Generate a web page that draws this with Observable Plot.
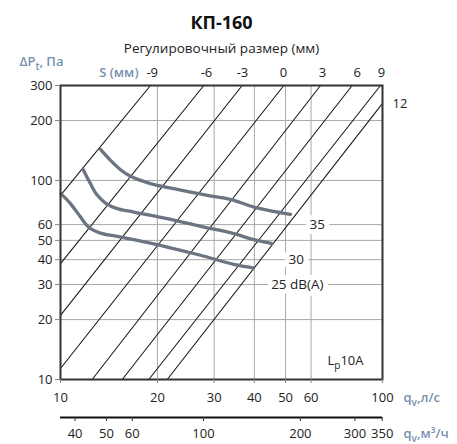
<!DOCTYPE html>
<html>
<head>
<meta charset="utf-8">
<script src="https://cdn.jsdelivr.net/npm/d3@7"></script>
<script src="https://cdn.jsdelivr.net/npm/@observablehq/plot@0.6"></script>
<style>
  html, body { margin: 0; padding: 0; background: #fff; }
  #chart { position: absolute; left: 0; top: 0; }
</style>
</head>
<body>
<div id="chart"></div>
<script>
// ---- texts ----
const title = "КП-160";
const subtitle = "Регулировочный размер (мм)";
const yLabel = "ΔP_t, Па";
const sLabel = "S (мм)";
const xLabel = "q_v,л/с";
const x2Label = "q_v,м³/ч";
const cornerLabel = "L_p10A";

// ---- axes ----
const xTicks = [10, 20, 30, 40, 50, 60, 100];       // л/с
const xGrid = [20, 30, 40, 50, 60];
const yTicks = [10, 20, 30, 40, 50, 60, 100, 200, 300]; // Па
const yGrid = [20, 30, 40, 50, 60, 100, 200];
const m3hTicks = [40, 50, 60, 100, 200, 300, 350];  // м³/ч labels
const m3hTickQ = [11.1, 13.9, 16.7, 27.8, 55.6, 82.1, 99.8]; // their positions on the л/с axis

// ---- regulating lines S (mm): endpoints [q, ΔP] ----
const sValues = ["-9", "-6", "-3", "0", "3", "6", "9", "12"];
const sStartQ = [10, 10, 10, 10, 12.54, 15.55, 18.8, 21.45];
const sStartP = [84.2, 38.2, 21.0, 11.36, 10, 10, 10, 10];
const sEndQ = [19.03, 27.86, 36.66, 49.38, 64.2, 80.5, 98.6, 100];
const sEndP = [300, 300, 300, 300, 300, 300, 300, 243.8];
const sLabelQ = [19.27, 28.4, 36.74, 49.27, 65.12, 83.44, 99.3]; // top labels -9..9

// ---- noise curves dB(A) ----
const dbLevels = ["25", "30", "35"];
const curve25Q = [10.04, 10.74, 11.54, 12.24, 13.31, 15.0, 16.89, 21.45, 27.21, 34.53, 39.6];
const curve25P = [85.6, 76.5, 65.5, 58.2, 54.4, 52.4, 50.4, 46.3, 42.1, 37.9, 36.4];
const curve30Q = [11.76, 12.39, 12.94, 13.8, 15.0, 16.89, 21.45, 27.21, 34.53, 39.83, 45.44];
const curve30P = [113.3, 96.4, 85.2, 77.0, 72.2, 69.4, 64.3, 58.8, 54.1, 50.4, 48.2];
const curve35Q = [13.31, 14.3, 15.36, 16.5, 19.03, 22.49, 28.55, 33.73, 39.83, 51.8];
const curve35P = [143.3, 126.2, 113.3, 104.9, 96.4, 90.9, 84.2, 80.4, 73.5, 67.6];
const dbLabelText = ["25 dB(A)", "30", "35"];
const dbLabelQ = [54.4, 53.95, 62.7];
const dbLabelP = [30, 40, 60];

// ---- build tables ----
const sLines = [];
sValues.forEach((s, i) => {
  sLines.push({s, q: sStartQ[i], p: sStartP[i]});
  sLines.push({s, q: sEndQ[i], p: sEndP[i]});
});
const sTop = sLabelQ.map((q, i) => ({q, text: sValues[i]}));
const curves = [];
[[curve25Q, curve25P], [curve30Q, curve30P], [curve35Q, curve35P]].forEach(([Q, P], k) => {
  Q.forEach((q, i) => curves.push({db: dbLevels[k], q, p: P[i]}));
});
const dbLabels = dbLabelText.map((t, i) => ({text: t, q: dbLabelQ[i], p: dbLabelP[i]}));
const m3h = m3hTicks.map((v, i) => ({v, q: m3hTickQ[i]}));
const xDom = [xTicks[0], xTicks[xTicks.length - 1]];
const yDom = [yTicks[0], yTicks[yTicks.length - 1]];

const blue = "#7890b0";
const gridColor = "#a8a8a8";
const font = "'Open Sans', sans-serif";

const plot = Plot.plot({
  width: 457,
  height: 444,
  marginLeft: 60,
  marginRight: 75,
  marginTop: 85,
  marginBottom: 65,
  style: {fontFamily: font, fontSize: "13px", color: "#222", background: "#fff"},
  x: {type: "log", domain: xDom},
  y: {type: "log", domain: yDom},
  marks: [
    // grid drawn as links (full-height / full-width)
    Plot.link(xGrid, {x1: d => d, x2: d => d, y1: () => yDom[0], y2: () => yDom[1], stroke: gridColor, strokeWidth: 1}),
    Plot.link(yGrid, {y1: d => d, y2: d => d, x1: () => xDom[0], x2: () => xDom[1], stroke: gridColor, strokeWidth: 1}),
    Plot.line(sLines, {x: "q", y: "p", z: "s", stroke: "#1a1a1a", strokeWidth: 1.1}),
    Plot.line(curves, {x: "q", y: "p", z: "db", stroke: "#6b7480", strokeWidth: 3.3, curve: "catmull-rom"}),
    Plot.text(dbLabels, {x: "q", y: "p", text: "text", fill: "#222", stroke: "white", strokeWidth: 10, lineAnchor: "middle", fontSize: 13.5}),
    Plot.frame({stroke: "#333", strokeWidth: 2}),
    Plot.axisY(yTicks, {tickSize: 5, tickPadding: 3, stroke: "#888", fill: "#222", tickFormat: d => String(d), label: null}),
    Plot.axisX(xTicks, {tickSize: 4, stroke: "#888", tickFormat: () => "", label: null}),
    Plot.text(xTicks, {x: d => d, text: d => String(d), frameAnchor: "bottom", lineAnchor: "middle", dy: 18, fill: "#222"}),
    // secondary axis m³/h
    Plot.ruleY([10], {x1: 10, x2: 100, dy: 38, stroke: "#111", strokeWidth: 2}),
    Plot.axisX(m3hTickQ, {tickSize: 4, dy: 38, stroke: "#333", tickFormat: () => "", label: null}),
    Plot.text(m3h, {x: "q", text: d => String(d.v), frameAnchor: "bottom", lineAnchor: "middle", dy: 54, fill: "#222"}),
    // S labels on top
    Plot.text(sTop, {x: "q", text: "text", frameAnchor: "top", lineAnchor: "middle", dy: -13, fill: "#222"}),
    Plot.text(["12"], {x: [100], y: [243.8], text: d => d, textAnchor: "start", dx: 10, lineAnchor: "middle", fill: "#222"}),
    Plot.text([sLabel], {frameAnchor: "top-left", textAnchor: "end", lineAnchor: "middle", dx: 78, dy: -13, fill: blue, fontWeight: 600, text: d => d}),
    Plot.text([yLabel], {frameAnchor: "top-left", textAnchor: "end", lineAnchor: "middle", dx: 3, dy: -24, fill: blue, fontWeight: 600, text: d => d}),
    Plot.text([xLabel], {frameAnchor: "bottom-right", textAnchor: "start", lineAnchor: "middle", dx: 21, dy: 18, fill: blue, fontWeight: 600, text: d => d}),
    Plot.text([x2Label], {frameAnchor: "bottom-right", textAnchor: "start", lineAnchor: "middle", dx: 21, dy: 54, fill: blue, fontWeight: 600, text: d => d}),
    Plot.text([cornerLabel], {frameAnchor: "bottom-right", textAnchor: "middle", lineAnchor: "middle", dx: -37, dy: -19, fill: "#222", text: d => d}),
    Plot.text([subtitle], {frameAnchor: "top", lineAnchor: "middle", dy: -37, fill: "#222", fontSize: 13.5, text: d => d}),
    Plot.text([title], {frameAnchor: "top", lineAnchor: "middle", dy: -62, fill: "#111", fontWeight: "bold", fontSize: 18, text: d => d})
  ]
});

document.getElementById("chart").append(plot);

// subscripts: "X_yZ" -> X, subscript y, Z
const NS = "http://www.w3.org/2000/svg";
plot.querySelectorAll("text").forEach(t => {
  if (t.querySelector("tspan")) return;
  const s = t.textContent;
  const i = s.indexOf("_");
  if (i < 0) return;
  t.textContent = "";
  const a = document.createElementNS(NS, "tspan");
  a.textContent = s.slice(0, i);
  const b = document.createElementNS(NS, "tspan");
  b.textContent = s[i + 1];
  b.setAttribute("dy", "4");
  b.setAttribute("font-size", "10");
  const c = document.createElementNS(NS, "tspan");
  c.textContent = s.slice(i + 2);
  c.setAttribute("dy", "-4");
  t.append(a, b, c);
});
</script>
</body>
</html>
